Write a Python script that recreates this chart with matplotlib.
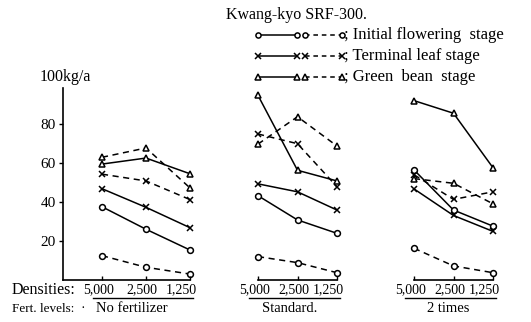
import matplotlib
matplotlib.use("Agg")
import matplotlib.pyplot as plt
from matplotlib.lines import Line2D
import matplotlib.transforms as mtransforms

plt.rcParams['font.family'] = ['Liberation Serif', 'DejaVu Serif']

# ---------------- data ----------------
title = "Kwang-kyo SRF-300."
y_unit = "100kg/a"
densities = ["5,000", "2,500", "1,250"]
fert_levels = ["No fertilizer", "Standard.", "2 times"]
stages = ["Initial flowering  stage", "Terminal leaf stage", "Green  bean  stage"]
y_ticks = [20, 40, 60, 80]

# each list: one row per fertilizer level, values at the three densities
initial_solid = [[37.5, 25.9, 15.2], [43.2, 30.7, 23.8], [56.5, 35.8, 27.5]]
initial_dashed = [[12.3, 6.3, 2.8], [11.8, 8.7, 3.5], [16.1, 7.0, 3.5]]
terminal_solid = [[46.8, 37.2, 26.7], [49.3, 45.2, 35.8], [46.7, 33.0, 24.8]]
terminal_dashed = [[54.3, 50.8, 41.2], [75.0, 70.0, 47.8], [54.0, 41.3, 45.2]]
green_solid = [[59.5, 62.6, 54.5], [94.9, 56.3, 50.8], [92.2, 85.7, 57.6]]
green_dashed = [[63.0, 67.8, 47.2], [69.8, 83.9, 68.8], [52.0, 49.6, 39.0]]

# ---------------- layout (pixels) ----------------
W, H = 531, 322
AX_L, AX_R = 63, 525
AX_B, AX_T = 279.5, 88
PX_PER_UNIT = 1.94
panel_x0 = [102, 258, 414]
panel_step = [44, 39.5, 39.5]
panel_label_x = [132, 290, 448]
label_shift = [-3, -4, -9]

fig = plt.figure(figsize=(W / 100, H / 100), dpi=100)
ax = fig.add_axes([AX_L / W, 1 - AX_B / H, (AX_R - AX_L) / W, (AX_B - AX_T) / H])
ax.set_xlim(AX_L, AX_R)
ax.set_ylim(0, (AX_B - AX_T) / PX_PER_UNIT)
for s in ['top', 'right', 'bottom']:
    ax.spines[s].set_visible(False)
ax.spines['left'].set_linewidth(1.2)

markers = ['o', 'x', '^']
msizes = [4.2, 5, 5]
series = [(initial_solid, initial_dashed), (terminal_solid, terminal_dashed),
          (green_solid, green_dashed)]

trans = mtransforms.blended_transform_factory(ax.transData, ax.transAxes)
ax_h = AX_B - AX_T
y_lab = -(290 - AX_B) / ax_h
y_ul = -(298 - AX_B) / ax_h

for p in range(3):
    xs = [panel_x0[p] + i * panel_step[p] for i in range(len(densities))]
    for k, (sol, dsh) in enumerate(series):
        for data, ls in ((sol, '-'), (dsh, (0, (4, 3)))):
            ax.plot(xs, data[p], color='black', lw=1.1, ls=ls, marker=markers[k],
                    ms=msizes[k], mfc='white', mec='black', mew=1.1, clip_on=False)
    # baseline for each panel
    x_start = AX_L if p == 0 else xs[0]
    ax.plot([x_start, xs[-1]], [0, 0], color='black', lw=1.2, clip_on=False)
    ax.vlines(xs, 0, 1.6, color='black', lw=1.0, clip_on=False)
    # density labels
    for i, lab in enumerate(densities):
        ax.text(xs[i] + label_shift[i], y_lab, lab, transform=trans, ha='center',
                va='center', fontsize=10)
    # underline below density labels
    ax.plot([xs[0] - 9, xs[-1] + 3], [y_ul, y_ul], color='black', lw=1.0,
            transform=trans, clip_on=False)
    fig.text(panel_label_x[p] / W, 1 - 309 / H, fert_levels[p], ha='center',
             va='center', fontsize=10.5)

ax.set_xticks([])
ax.set_yticks(y_ticks)
ax.tick_params(axis='y', direction='out', length=3, width=1, pad=2, labelsize=11)

fig.text(12 / W, 1 - 290 / H, "Densities:", ha='left', va='center', fontsize=11.5)
fig.text(12 / W, 1 - 309 / H, "Fert. levels:", ha='left', va='center', fontsize=9.5)
fig.text(83 / W, 1 - 309 / H, "\u00b7", ha='center', va='center', fontsize=10)
fig.text(40 / W, 1 - 77 / H, y_unit, ha='left', va='center', fontsize=11.5)
fig.text(296 / W, 1 - 15 / H, title, ha='center', va='center', fontsize=11.5)

# legend drawn as samples
legend_y = [35, 56, 77]
for k in range(3):
    yy = 1 - legend_y[k] / H
    fig.add_artist(Line2D([258 / W, 297 / W], [yy, yy], transform=fig.transFigure,
                          color='black', lw=1.1, marker=markers[k], ms=msizes[k] - 0.5,
                          mfc='white', mec='black', mew=1.1))
    fig.add_artist(Line2D([305 / W, 342 / W], [yy, yy], transform=fig.transFigure,
                          color='black', lw=1.1, ls=(0, (3, 2.5)), marker=markers[k],
                          ms=msizes[k] - 0.5, mfc='white', mec='black', mew=1.1))
    fig.text(344 / W, yy, "; " + stages[k], ha='left', va='center', fontsize=12)

fig.savefig("out.png", dpi=100)
